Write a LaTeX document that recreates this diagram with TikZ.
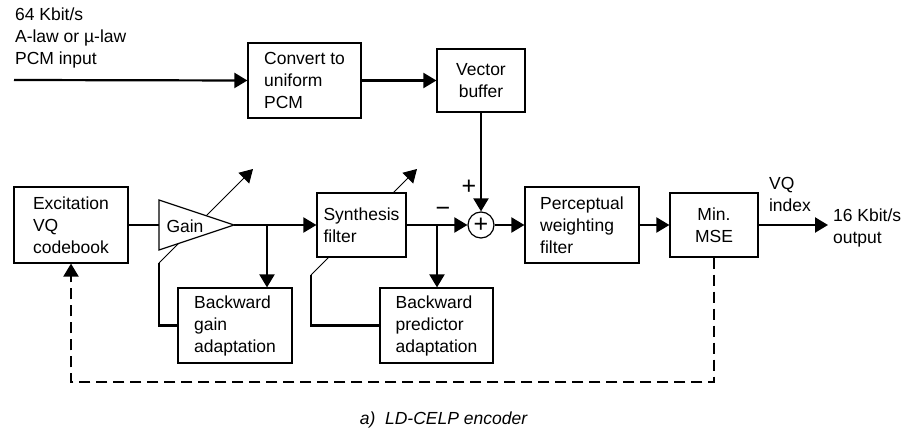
\documentclass[tikz,border=0pt]{standalone}
\usepackage{fontspec}
\setmainfont{Liberation Sans}
\usetikzlibrary{arrows.meta}

\begin{document}
\begin{tikzpicture}[%
        x = 1pt,
        y = -1pt,
        font = \fontsize{17.5}{22}\selectfont,
        line width = 2.2pt,
        >={Triangle[length=13pt, width=15pt]},
        box/.style = {draw, fill = white, line width = 1.2pt, inner sep = 2pt, align = left},
        lbl/.style = {inner sep = 0pt, align = left, anchor = west},
        sign/.style = {font = \fontsize{25}{25}\selectfont, inner sep = 0pt},
        thinline/.style = {line width = 0.9pt},
        ]

\useasboundingbox[] (0,0) rectangle (908,438);
% \draw (0,0) grid (908,438);


% adaptation arrows, drawn first so the blocks hide them
\foreach \NAME/\X/\Y/\LEN in {g/159/263/94, s/311/275/106}{
    \coordinate (\NAME0) at (\X,\Y);
    \draw[thinline,->] (\NAME0) -- ++(\LEN,-\LEN) coordinate (\NAME1);
    }


\node (conv) [box, minimum width = 113pt, minimum height = 75pt] at (304.5,80.5)
    {Convert to\\uniform\\PCM};
\node (vbuf) [box, align = center, minimum width = 88pt, minimum height = 63pt] at (481,80.5)
    {Vector\\buffer};

\node (exc) [box, minimum width = 114pt, minimum height = 76pt] at (71,225)
    {Excitation\\VQ\\codebook};
\node (syn) [box, minimum width = 89pt, minimum height = 64pt] at (361.5,225)
    {Synthesis\\filter};
\node (pwf) [box, minimum width = 114pt, minimum height = 76pt] at (582,225)
    {Perceptual\\weighting\\filter};
\node (mse) [box, align = center, minimum width = 88pt, minimum height = 64pt] at (714,225)
    {Min.\\MSE};

\node (bga) [box, minimum width = 114pt, minimum height = 75pt] at (235,325.5)
    {Backward\\gain\\adaptation};
\node (bpa) [box, minimum width = 113pt, minimum height = 75pt] at (436.5,325.5)
    {Backward\\predictor\\adaptation};

\node (sum) [circle, draw, fill = white, line width = 1.2pt, minimum size = 26pt, sign] at (481,225) {+};


% gain
\coordinate (gin) at (159,225);
\coordinate (gout) at (234,225);
\filldraw[fill = white, line width = 1.2pt] (159,200) -- (gout) -- (159,250) -- cycle;
\node (gain) at (185,226) {Gain};


\coordinate (in) at (14,80);
\coordinate (j1) at (267,225);
\coordinate (j2) at (437,225);
\coordinate (out) at (828,225);
\coordinate (fb) at (714,382);

\draw[->] (in) -- (conv.west);
\draw[->] (conv) -- (vbuf);
\draw[->] (vbuf) -- (sum);

\draw (exc) -- (gin);
\draw[->] (gout) -- (syn);
\draw[->] (j1) -- (j1 |- bga.north);
\draw[->] (syn) -- (sum);
\draw[->] (j2) -- (j2 |- bpa.north);
\draw[->] (sum) -- (pwf);
\draw[->] (pwf) -- (mse);
\draw[->] (mse) -- (out);

\draw (bga.west) -| (g0);
\draw (bpa.west) -| (s0);

\draw[->, dash pattern = on 11pt off 6pt] (mse) -- (fb) -| (exc);


\node (plus) [sign] at (469,187) {+};
\node (minus) [sign] at (443,212) {−};

\node (inlbl) [lbl] at (14,38) {64 Kbit/s\\A-law or µ-law\\PCM input};
\node (vqlbl) [lbl] at (768,194) {VQ\\index};
\node (outlbl) [lbl] at (832,228) {16 Kbit/s\\output};

\node (caption) [font = \fontsize{17.5}{22}\selectfont\itshape] at (443.5,420) {a)\ \ LD-CELP encoder};


\end{tikzpicture}
\end{document}
